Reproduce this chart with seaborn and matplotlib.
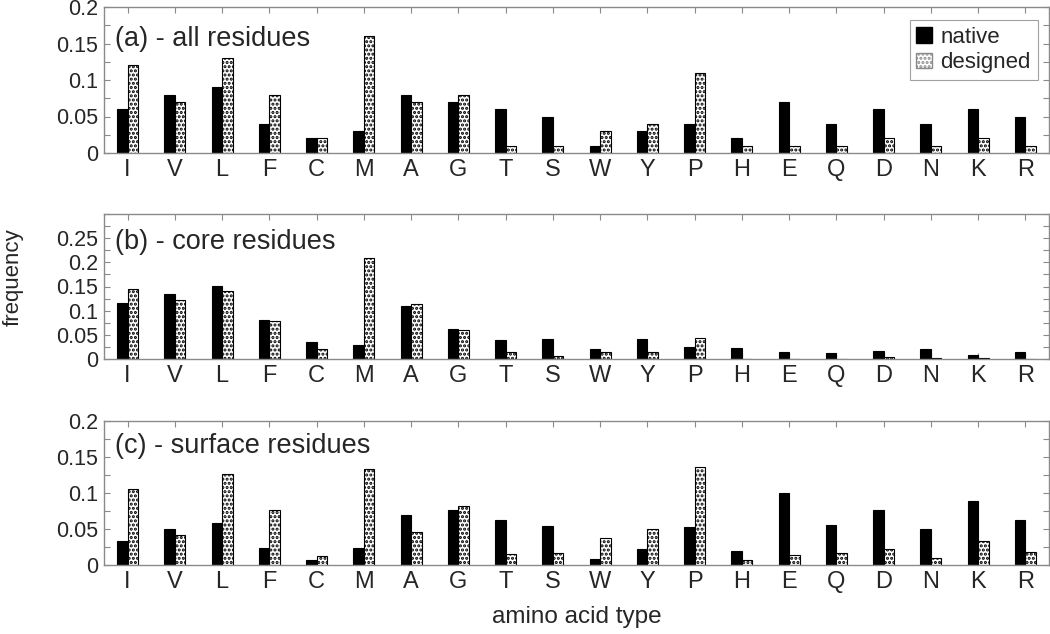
import numpy as np
import pandas as pd
import matplotlib
matplotlib.use("Agg")
import matplotlib.pyplot as plt
import seaborn as sns
from matplotlib.patches import Patch
from matplotlib.ticker import MultipleLocator, FuncFormatter, FixedLocator

residues = ["I", "V", "L", "F", "C", "M", "A", "G", "T", "S",
            "W", "Y", "P", "H", "E", "Q", "D", "N", "K", "R"]

all_native = [0.06, 0.08, 0.09, 0.04, 0.02, 0.03, 0.08, 0.07, 0.06, 0.05,
              0.01, 0.03, 0.04, 0.02, 0.07, 0.04, 0.06, 0.04, 0.06, 0.05]
all_designed = [0.12, 0.07, 0.13, 0.08, 0.02, 0.16, 0.07, 0.08, 0.01, 0.01,
                0.03, 0.04, 0.11, 0.01, 0.01, 0.01, 0.02, 0.01, 0.02, 0.01]

core_native = [0.115, 0.135, 0.152, 0.081, 0.035, 0.030, 0.109, 0.063, 0.040, 0.041,
               0.021, 0.042, 0.024, 0.022, 0.015, 0.012, 0.017, 0.020, 0.008, 0.015]
core_designed = [0.145, 0.122, 0.140, 0.079, 0.020, 0.210, 0.114, 0.061, 0.014, 0.007,
                 0.015, 0.014, 0.043, 0.001, 0.001, 0.001, 0.005, 0.002, 0.003, 0.001]

surf_native = [0.034, 0.050, 0.058, 0.023, 0.007, 0.024, 0.070, 0.076, 0.062, 0.054,
               0.009, 0.022, 0.053, 0.019, 0.100, 0.055, 0.077, 0.050, 0.089, 0.062]
surf_designed = [0.105, 0.041, 0.127, 0.076, 0.013, 0.134, 0.046, 0.082, 0.015, 0.016,
                 0.037, 0.050, 0.136, 0.007, 0.014, 0.016, 0.022, 0.010, 0.033, 0.018]

panel_titles = ["(a) - all residues", "(b) - core residues", "(c) - surface residues"]
panel_ymax = [0.2, 0.3, 0.2]
panel_ylabels_max = [0.2, 0.25, 0.2]
series_names = ["native", "designed"]

FONT = ["Liberation Sans", "DejaVu Sans"]
sns.set_style("white")
plt.rcParams["font.family"] = FONT
plt.rcParams["hatch.linewidth"] = 1.5

GRAY = "#8a8a8a"

fig = plt.figure(figsize=(10.5, 6.34), dpi=100)
W, H = 1050, 634
boxes = [(7, 153), (214, 359), (421, 565)]
title_y = [0.78, 0.807, 0.823]
data = [(all_native, all_designed), (core_native, core_designed), (surf_native, surf_designed)]

for i, ((top, bot), (nat, des)) in enumerate(zip(boxes, data)):
    ax = fig.add_axes([104 / W, 1 - bot / H, (1049 - 104) / W, (bot - top) / H])
    df = pd.DataFrame({
        "residue": residues * 2,
        "type": [series_names[0]] * len(residues) + [series_names[1]] * len(residues),
        "freq": list(nat) + list(des),
    })
    sns.barplot(data=df, x="residue", y="freq", hue="type", order=residues,
                hue_order=series_names, palette={"native": "black", "designed": "white"},
                width=0.44, dodge=True, legend=False, ax=ax, linewidth=0.8,
                edgecolor="black", saturation=1)
    for bar in ax.containers[1]:
        bar.set_hatch("....")
        bar.set_facecolor("white")
        if hasattr(bar, "set_hatchcolor"):
            bar.set_edgecolor(GRAY)
            bar.set_hatchcolor("black")
        else:
            bar.set_edgecolor("black")
    for bar in ax.containers[0]:
        bar.set_edgecolor("black")
        bar.set_facecolor("black")

    ax.set_xlim(-0.5, len(residues) - 0.5)
    ax.set_ylim(0, panel_ymax[i])
    ax.set_xlabel("")
    ax.set_ylabel("")
    ax.yaxis.set_major_locator(FixedLocator(np.arange(0, panel_ylabels_max[i] + 1e-9, 0.05)))
    ax.yaxis.set_major_formatter(FuncFormatter(lambda v, p: "%g" % round(v, 3)))
    ax.yaxis.set_minor_locator(MultipleLocator(0.025))
    ax.tick_params(axis="y", which="both", direction="in", length=4, width=0.8,
                   color=GRAY, left=True, right=True, labelsize=15.5, pad=4)
    ax.tick_params(axis="x", which="both", direction="in", length=4, width=0.8,
                   color=GRAY, top=True, bottom=True, labelsize=17, pad=4)
    for s in ax.spines.values():
        s.set_color(GRAY)
        s.set_linewidth(1.0)
        s.set_visible(True)
    ax.text(0.0116, title_y[i], panel_titles[i], transform=ax.transAxes,
            ha="left", va="center", fontsize=19.5)
    if i == 0:
        handles = [Patch(facecolor="black", edgecolor="black", label="native")]
        hp = Patch(facecolor="white", edgecolor=GRAY, hatch="....", label="designed")
        if hasattr(hp, "set_hatchcolor"):
            hp.set_hatchcolor("black")
        handles.append(hp)
        leg = ax.legend(handles=handles, loc="upper right", bbox_to_anchor=(0.988, 0.91),
                        fontsize=16, frameon=True, fancybox=False, edgecolor=GRAY,
                        handlelength=0.7, handleheight=0.7, handletextpad=0.4,
                        borderpad=0.3, labelspacing=0.2, borderaxespad=0)
        leg.get_frame().set_linewidth(0.8)

fig.text(13 / W, 1 - 277 / H, "frequency", rotation=90, ha="center", va="center", fontsize=16)
fig.text(577 / W, 1 - 617 / H, "amino acid type", ha="center", va="center", fontsize=17.5)

fig.savefig("out.png", dpi=100)
